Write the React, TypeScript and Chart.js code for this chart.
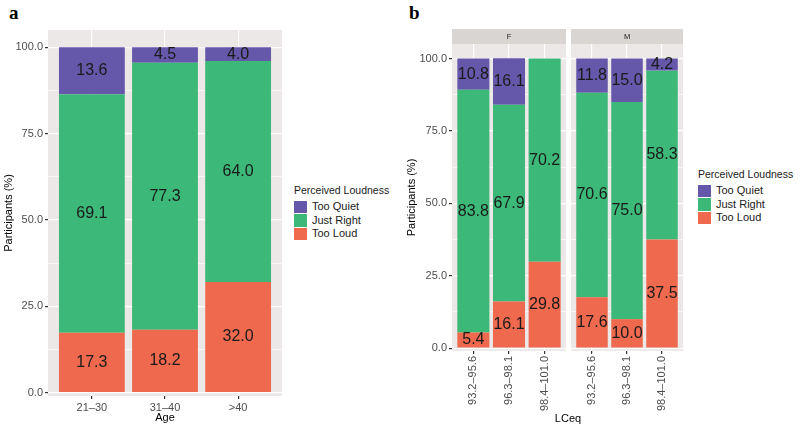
import { useEffect, useRef } from 'react'
import { Chart, registerables } from 'chart.js'
Chart.register(...registerables)

const FONT = '"Liberation Sans", Arial, Helvetica, sans-serif'
Chart.defaults.font.family = FONT

// panel a: by age group
const AGE_GROUPS = ['21–30', '31–40', '>40']
const AGE_TOO_QUIET = [13.6, 4.5, 4.0]
const AGE_JUST_RIGHT = [69.1, 77.3, 64.0]
const AGE_TOO_LOUD = [17.3, 18.2, 32.0]

// panel b: by LCeq bin, faceted by sex
const LCEQ_BINS = ['93.2–95.6', '96.3–98.1', '98.4–101.0']
const F_TOO_QUIET = [10.8, 16.1, 0]
const F_JUST_RIGHT = [83.8, 67.9, 70.2]
const F_TOO_LOUD = [5.4, 16.1, 29.8]
const M_TOO_QUIET = [11.8, 15.0, 4.2]
const M_JUST_RIGHT = [70.6, 75.0, 58.3]
const M_TOO_LOUD = [17.6, 10.0, 37.5]

const Y_TICKS = [0, 12.5, 25, 37.5, 50, 62.5, 75, 87.5, 100]
const LEGEND_LABELS = ['Too Quiet', 'Just Right', 'Too Loud']

const QUIET_COL = '#6557a9'
const RIGHT_COL = '#3cb878'
const LOUD_COL = '#ee694d'
const LEGEND_COLS = [QUIET_COL, RIGHT_COL, LOUD_COL]

const panelBg = {
    id: 'panelBg',
    beforeDraw(chart: any, _args: any, opts: any) {
        const { ctx, chartArea: a } = chart
        ctx.save()
        ctx.fillStyle = '#ebe8e7'
        ctx.fillRect(a.left, a.top, a.width, a.height)
        if (opts.strip) {
            ctx.fillStyle = '#d8d5d3'
            ctx.fillRect(a.left, a.top - 15, a.width, 15)
            ctx.fillStyle = '#1a1a1a'
            ctx.font = `7.5px ${FONT}`
            ctx.textAlign = 'center'
            ctx.textBaseline = 'middle'
            ctx.fillText(opts.strip, (a.left + a.right) / 2, a.top - 7.5)
        }
        ctx.restore()
    },
}

const segLabels = {
    id: 'segLabels',
    afterDatasetsDraw(chart: any) {
        const { ctx } = chart
        ctx.save()
        ctx.font = `16px ${FONT}`
        ctx.fillStyle = '#1a1a1a'
        ctx.textAlign = 'center'
        ctx.textBaseline = 'middle'
        chart.data.datasets.forEach((ds: any, di: number) => {
            chart.getDatasetMeta(di).data.forEach((bar: any, i: number) => {
                const v = ds.data[i].y
                if (!v) return
                const { x, y, base } = bar.getProps(['x', 'y', 'base'], true)
                ctx.fillText(v.toFixed(1), x, (y + base) / 2)
            })
        })
        ctx.restore()
    },
}

interface PanelProps {
    cats: string[]
    quiet: number[]
    right: number[]
    loud: number[]
    left: number
    width: number
    padding: { top: number; left: number; right: number }
    yWidth: number
    xHeight: number
    showY: boolean
    yTitlePad?: number
    xTitle?: string
    rotate: number
    strip?: string
}

function StackedPanel(p: PanelProps) {
    const canvasRef = useRef<HTMLCanvasElement>(null)

    useEffect(() => {
        if (!canvasRef.current) return
        const toXY = (arr: number[]) => arr.map((y, x) => ({ x, y }))
        const isMajor = (c: any) => ((c.tick?.value ?? 0) % 25) === 0
        const chart = new Chart(canvasRef.current, {
            type: 'bar',
            data: {
                datasets: [
                    { label: 'Too Loud', data: toXY(p.loud), backgroundColor: LOUD_COL },
                    { label: 'Just Right', data: toXY(p.right), backgroundColor: RIGHT_COL },
                    { label: 'Too Quiet', data: toXY(p.quiet), backgroundColor: QUIET_COL },
                ],
            },
            options: {
                animation: false,
                responsive: true,
                maintainAspectRatio: false,
                layout: { padding: { ...p.padding, bottom: 0 } },
                datasets: { bar: { barPercentage: 0.9, categoryPercentage: 1 } },
                plugins: {
                    legend: { display: false },
                    tooltip: { enabled: false },
                    panelBg: { strip: p.strip },
                } as any,
                scales: {
                    x: {
                        type: 'linear',
                        stacked: true,
                        offset: false,
                        min: -0.6,
                        max: p.cats.length - 0.4,
                        afterBuildTicks: (s: any) => { s.ticks = p.cats.map((_, i) => ({ value: i })) },
                        afterFit: (s: any) => { s.height = p.xHeight },
                        ticks: {
                            callback: (v: any) => p.cats[v],
                            color: '#4d4d4d',
                            font: { size: 11 },
                            padding: 2,
                            autoSkip: false,
                            minRotation: p.rotate,
                            maxRotation: p.rotate,
                        },
                        grid: { offset: false, color: '#ffffff', lineWidth: 1.2, tickColor: '#333333', tickLength: 3 },
                        border: { display: false },
                        title: {
                            display: !!p.xTitle,
                            text: p.xTitle,
                            color: '#000',
                            font: { size: 11 },
                            padding: { top: 0, bottom: 1 },
                        },
                    },
                    y: {
                        stacked: true,
                        min: -1,
                        max: 105,
                        afterBuildTicks: (s: any) => { s.ticks = Y_TICKS.map(value => ({ value })) },
                        afterFit: (s: any) => { s.width = p.yWidth },
                        ticks: {
                            display: p.showY,
                            callback: (v: any) => (v % 25 === 0 ? Number(v).toFixed(1) : ''),
                            color: '#4d4d4d',
                            font: { size: 11 },
                            padding: 2,
                        },
                        grid: {
                            color: '#ffffff',
                            lineWidth: (c: any) => (isMajor(c) ? 1.2 : 0.6),
                            tickColor: (c: any) => (isMajor(c) ? '#333333' : 'rgba(0,0,0,0)'),
                            tickLength: 3,
                            drawTicks: p.showY,
                        },
                        border: { display: false },
                        title: {
                            display: p.showY,
                            text: 'Participants (%)',
                            color: '#000',
                            font: { size: 11 },
                            padding: { top: p.yTitlePad ?? 4, bottom: 0 },
                        },
                    },
                },
            } as any,
            plugins: [panelBg, segLabels],
        })
        return () => chart.destroy()
    }, [])

    return (
        <div style={{ position: 'absolute', left: p.left, top: 0, width: p.width, height: 426 }}>
            <canvas ref={canvasRef} />
        </div>
    )
}

function Legend({ left, top }: { left: number; top: number }) {
    return (
        <div style={{ position: 'absolute', left, top, fontFamily: FONT, color: '#1a1a1a' }}>
            <div style={{ fontSize: 10.5, lineHeight: '12px', marginBottom: 4, whiteSpace: 'nowrap' }}>Perceived Loudness</div>
            {LEGEND_LABELS.map((l, i) => (
                <div key={l} style={{ display: 'flex', alignItems: 'center', height: 13.5 }}>
                    <span style={{ width: 13, height: 12.5, background: LEGEND_COLS[i], display: 'inline-block' }} />
                    <span style={{ marginLeft: 5, fontSize: 11, lineHeight: '13px' }}>{l}</span>
                </div>
            ))}
        </div>
    )
}

const letterStyle = {
    position: 'absolute' as const,
    top: 3,
    fontFamily: '"Liberation Serif", "Times New Roman", serif',
    fontWeight: 700,
    fontSize: 19,
    lineHeight: 1,
}

export default function App() {
    return (
        <div style={{ position: 'absolute', left: 0, top: 0, width: 800, height: 426, background: '#fff', overflow: 'hidden' }}>
            <div style={{ ...letterStyle, left: 9 }}>a</div>
            <div style={{ ...letterStyle, left: 409 }}>b</div>

            <StackedPanel
                cats={AGE_GROUPS} quiet={AGE_TOO_QUIET} right={AGE_JUST_RIGHT} loud={AGE_TOO_LOUD}
                left={0} width={290} padding={{ top: 30, left: 0, right: 8 }}
                yWidth={48} xHeight={30} showY yTitlePad={2.5} xTitle="Age" rotate={0}
            />
            <Legend left={294} top={184} />

            <StackedPanel
                cats={LCEQ_BINS} quiet={F_TOO_QUIET} right={F_JUST_RIGHT} loud={F_TOO_LOUD}
                left={400} width={168} padding={{ top: 44, left: 0, right: 2 }}
                yWidth={52} xHeight={75} showY yTitlePad={5} rotate={90} strip="F"
            />
            <StackedPanel
                cats={LCEQ_BINS} quiet={M_TOO_QUIET} right={M_JUST_RIGHT} loud={M_TOO_LOUD}
                left={569} width={116} padding={{ top: 44, left: 2, right: 2 }}
                yWidth={0} xHeight={75} showY={false} rotate={90} strip="M"
            />
            <div style={{ position: 'absolute', left: 518, top: 411, width: 100, textAlign: 'center', fontFamily: FONT, fontSize: 11, lineHeight: '14px', color: '#000' }}>
                LCeq
            </div>
            <Legend left={698} top={168} />
        </div>
    )
}
